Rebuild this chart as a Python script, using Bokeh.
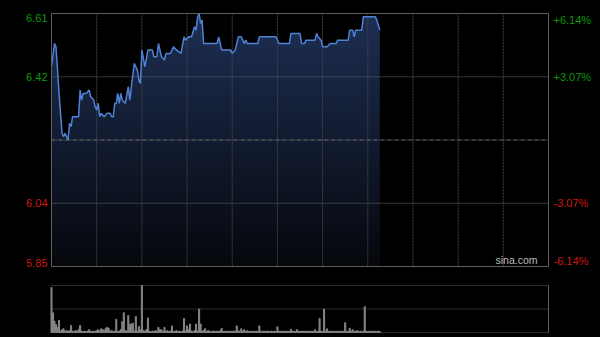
import numpy as np
from bokeh.plotting import figure
from bokeh.models import Range1d
from bokeh.core.properties import value
from bokeh.embed import file_html
from bokeh.resources import INLINE

# ---------------- data ----------------
prev_close = 6.23
price_low, price_high = 5.85, 6.61
session_len = 330  # HK session minutes (09:30-12:00, 13:00-16:00)

minutes = [0, 2, 3, 5, 7, 8, 9, 11, 12, 13, 14, 18, 19, 20, 21, 23, 25, 26, 28, 29,
           30, 31, 32, 33, 35, 37, 39, 40, 41, 42, 43, 44, 45, 46, 47, 49, 51, 52, 53, 55,
           57, 58, 59, 60, 62, 64, 67, 68, 70, 71, 73, 75, 76, 79, 81, 83, 86, 88, 89, 91,
           93, 95, 96, 97, 98, 99, 100, 101, 102, 110, 111, 112, 113, 119, 120, 122, 124, 126, 128, 129,
           130, 137, 138, 149, 151, 158, 159, 165, 166, 168, 169, 175, 176, 177, 179, 180, 183, 185, 189, 190,
           197, 198, 200, 201, 202, 206, 207, 214, 215, 216, 218]
prices = [6.45, 6.52, 6.51, 6.37, 6.25, 6.24, 6.25, 6.23, 6.28, 6.27, 6.30, 6.30, 6.38, 6.35, 6.37, 6.37, 6.38, 6.36, 6.35, 6.33,
          6.32, 6.34, 6.30, 6.31, 6.30, 6.31, 6.31, 6.30, 6.30, 6.34, 6.34, 6.37, 6.34, 6.37, 6.35, 6.34, 6.39, 6.35, 6.39, 6.46,
          6.44, 6.41, 6.40, 6.50, 6.45, 6.50, 6.50, 6.48, 6.48, 6.52, 6.48, 6.47, 6.49, 6.49, 6.51, 6.50, 6.49, 6.54, 6.53, 6.54,
          6.54, 6.57, 6.56, 6.60, 6.61, 6.58, 6.59, 6.52, 6.52, 6.52, 6.54, 6.52, 6.50, 6.50, 6.49, 6.50, 6.54, 6.54, 6.52, 6.53,
          6.52, 6.52, 6.54, 6.54, 6.52, 6.52, 6.55, 6.55, 6.52, 6.52, 6.53, 6.53, 6.55, 6.54, 6.53, 6.51, 6.51, 6.52, 6.52, 6.53,
          6.53, 6.56, 6.56, 6.54, 6.56, 6.56, 6.60, 6.60, 6.60, 6.59, 6.56]

price_ticks = [6.61, 6.42, 6.04, 5.85]
pct_labels = ["+6.14%", "+3.07%", "-3.07%", "-6.14%"]
grid_prices = [6.42, 6.04]
time_grid = [30, 60, 90, 120, 150, 180, 210, 240, 270, 300]

vol_minutes = list(range(219))
volumes = [96, 42, 24, 17, 11, 26, 3, 6, 8, 3, 4, 3, 4, 15, 3, 2, 4, 3, 6, 15,
           3, 2, 3, 2, 3, 6, 2, 3, 2, 3, 4, 6, 3, 8, 6, 4, 9, 11, 9, 3,
           4, 2, 3, 28, 2, 3, 6, 23, 42, 4, 3, 36, 18, 18, 20, 3, 34, 3, 13, 6,
           100, 4, 3, 6, 31, 3, 2, 3, 2, 4, 3, 11, 6, 6, 2, 11, 3, 4, 2, 3,
           14, 2, 3, 4, 2, 3, 2, 3, 30, 3, 14, 6, 18, 3, 2, 4, 18, 3, 50, 18,
           3, 4, 8, 2, 4, 3, 2, 3, 3, 2, 3, 2, 4, 9, 2, 3, 2, 3, 2, 3,
           2, 3, 3, 14, 4, 2, 8, 3, 6, 2, 4, 2, 3, 2, 3, 2, 3, 2, 14, 3,
           2, 3, 2, 3, 3, 2, 3, 2, 3, 2, 12, 3, 2, 3, 2, 3, 2, 3, 2, 7,
           2, 3, 2, 6, 2, 3, 2, 3, 2, 3, 2, 3, 2, 3, 2, 6, 2, 3, 30, 3,
           2, 50, 3, 8, 2, 3, 2, 3, 2, 3, 2, 3, 2, 3, 2, 21, 2, 3, 9, 3,
           6, 2, 3, 4, 2, 3, 2, 3, 55, 3, 2, 3, 2, 3, 2, 3, 2, 3, 2]
vol_max = 100
vol_grid = [0, 50, 100]

# ---------------- layout (pixels) ----------------
W, H = 600, 337
BOX_L, BOX_R = 51, 548          # chart box left / right
MAIN_T, MAIN_B = 13, 266        # price box top / bottom
VOL_T, VOL_B = 285, 332         # volume box top / bottom

GREEN = "#0a9a0a"
RED = "#d01414"
FONT = value("Liberation Sans")

px_per_min = (BOX_R - BOX_L) / session_len
x_range = Range1d(-BOX_L / px_per_min, session_len + (W - BOX_R) / px_per_min)
pp = (price_high - price_low) / (MAIN_B - MAIN_T)
y_range = Range1d(price_low - (H - MAIN_B) * pp, price_high + MAIN_T * pp)
vp = vol_max / (VOL_B - VOL_T)
vol_range = Range1d(0 - (H - VOL_B) * vp, vol_max + VOL_T * vp)

p = figure(width=W, height=H, x_range=x_range, y_range=y_range,
           output_backend="svg", toolbar_location=None,
           min_border=0, background_fill_color="black", border_fill_color="black",
           outline_line_color=None)
p.extra_y_ranges = {"vol": vol_range}
p.axis.visible = False
p.grid.visible = False

# gradient area under the price line
n = 128
t = np.linspace(0.0, 1.0, n)[:, None]
c_bot = np.array([6, 8, 13], dtype=float)
c_top = np.array([30, 47, 84], dtype=float)
cols = c_bot + (c_top - c_bot) * t
img = np.zeros((n, 1), dtype=np.uint32)
view = img.view(dtype=np.uint8).reshape((n, 1, 4))
view[:, 0, 0] = cols[:, 0].astype(np.uint8)
view[:, 0, 1] = cols[:, 1].astype(np.uint8)
view[:, 0, 2] = cols[:, 2].astype(np.uint8)
view[:, 0, 3] = 255
p.image_rgba(image=[img], x=minutes[0], y=price_low, dw=minutes[-1] - minutes[0],
             dh=price_high - price_low)
p.varea(x=minutes, y1=prices, y2=price_high, fill_color="black", fill_alpha=1.0)

# grid lines of the price box
p.segment(x0=time_grid, x1=time_grid, y0=[price_low] * len(time_grid),
          y1=[price_high] * len(time_grid), line_color="#444444", line_dash="2 1", line_width=1)
p.segment(x0=[0] * len(grid_prices), x1=[session_len] * len(grid_prices),
          y0=grid_prices, y1=grid_prices, line_color="#6a6a6a", line_dash="1 1", line_width=1)
p.segment(x0=[0], x1=[session_len], y0=[prev_close], y1=[prev_close],
          line_color="#747474", line_dash="4 1 1 1", line_width=1)

p.line(minutes, prices, line_color="#4f82d6", line_width=1.5)

p.quad(left=[0], right=[session_len], bottom=[price_low], top=[price_high],
       fill_color=None, line_color="#5e5e5e", line_width=1)

# price / percent labels
for i, (tk, pl) in enumerate(zip(price_ticks, pct_labels)):
    col = GREEN if tk > prev_close else RED
    base = "top" if i == 0 else ("bottom" if i == len(price_ticks) - 1 else "middle")
    p.text(x=[0], y=[tk], text=[f"{tk:.2f}"], x_offset=-4, text_align="right",
           text_baseline=base, text_color=col, text_font=FONT, text_font_size="11px")
    p.text(x=[session_len], y=[tk], text=[pl], x_offset=5, text_align="left",
           text_baseline=base, text_color=col, text_font=FONT, text_font_size="11px")

p.text(x=[session_len], y=[price_low], text=["sina.com"], x_offset=-11, y_offset=-1,
       text_align="right", text_baseline="bottom", text_color="#bdbdbd",
       text_font=FONT, text_font_size="10.5px")

# ---------------- volume ----------------
p.segment(x0=[0] * len(vol_grid), x1=[session_len] * len(vol_grid), y0=vol_grid, y1=vol_grid,
          line_color="#5c5c5c", line_dash="1 1", line_width=1, y_range_name="vol")
p.vbar(x=vol_minutes, top=volumes, bottom=0, width=0.7, color="#858585", y_range_name="vol")
p.segment(x0=[session_len], x1=[session_len], y0=[0], y1=[vol_max],
          line_color="#5e5e5e", line_width=1, y_range_name="vol")

html = file_html(p, INLINE)
html = html.replace("<head>", "<head><style>html,body{margin:0;padding:0;background:#000;}</style>", 1)
open("out.html", "w").write(html)
